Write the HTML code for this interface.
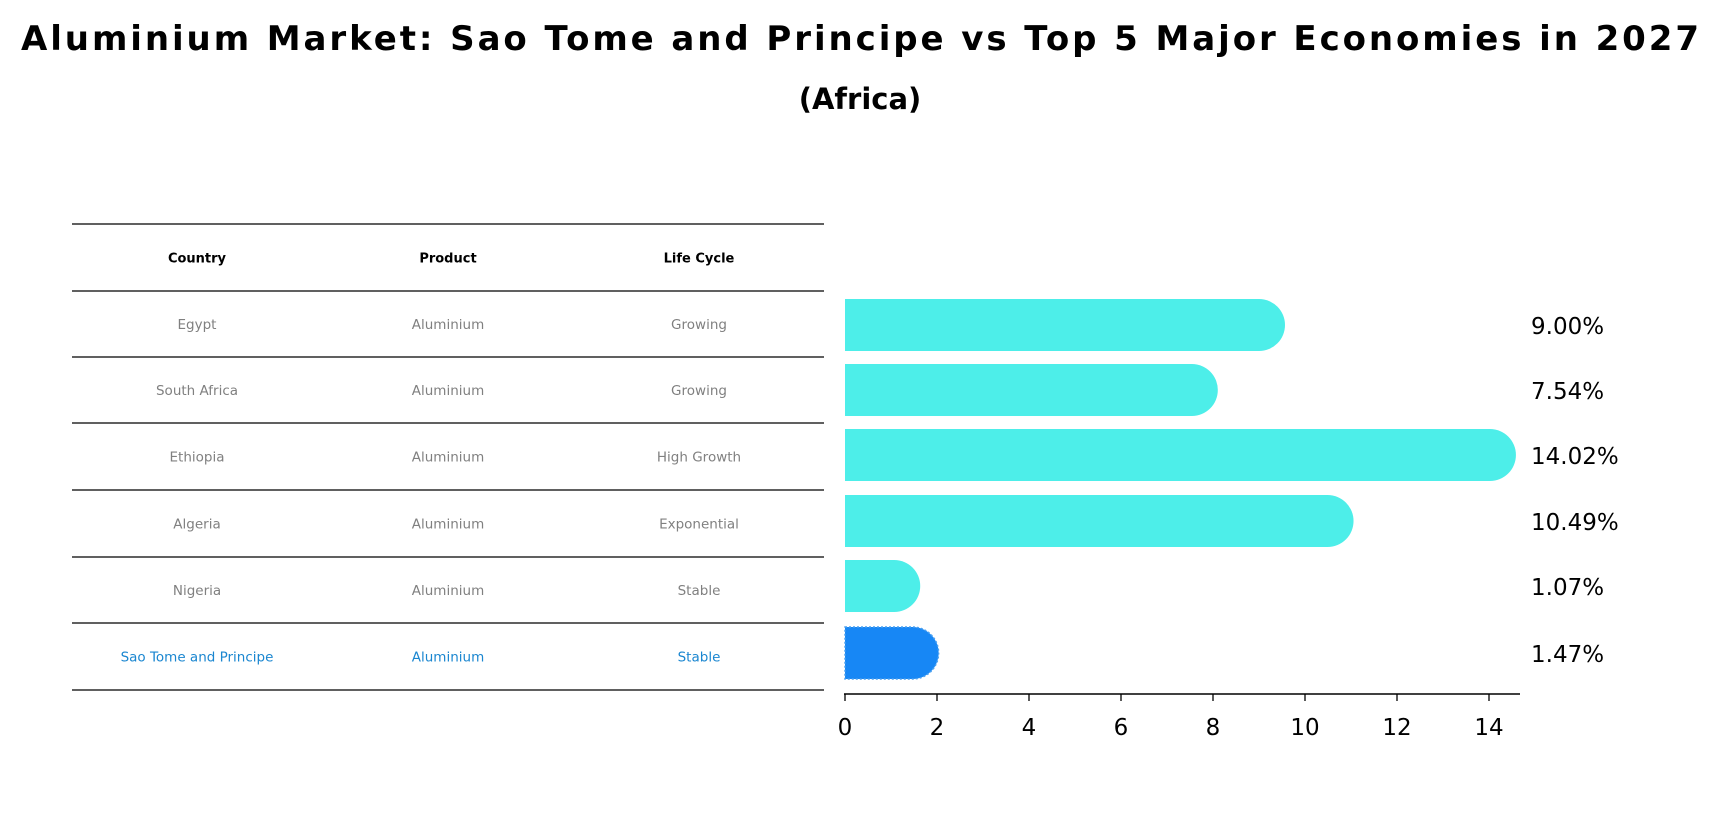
<!DOCTYPE html>
<html><head><meta charset="utf-8"><style>
body{margin:0;background:#fff;}
svg{display:block;font-family:"DejaVu Sans","Liberation Sans",sans-serif;}
</style></head><body>
<svg id="c" width="1720" height="823" viewBox="0 0 1720 823">
<text x="860" y="50" text-anchor="middle" font-size="34" font-weight="bold" textLength="1678">Aluminium Market: Sao Tome and Principe vs Top 5 Major Economies in 2027</text>
<text x="860" y="109" text-anchor="middle" font-size="29" font-weight="bold">(Africa)</text>
<g id="tbl"></g>
<g id="bars"></g>
</svg>
<script>
const countries=["Egypt","South Africa","Ethiopia","Algeria","Nigeria","Sao Tome and Principe"];
const products=["Aluminium","Aluminium","Aluminium","Aluminium","Aluminium","Aluminium"];
const cycles=["Growing","Growing","High Growth","Exponential","Stable","Stable"];
const values=[9.00,7.54,14.02,10.49,1.07,1.47];
const ticks=[0,2,4,6,8,10,12,14];
const NS="http://www.w3.org/2000/svg";
function mk(t,a,p,txt){const e=document.createElementNS(NS,t);for(const k in a)e.setAttribute(k,a[k]);if(txt!=null)e.textContent=txt;p.appendChild(e);return e;}
const tbl=document.getElementById('tbl');
const lineY=[224,291,357,423,490,557,623,690];
const colX=[197,448,699];
lineY.forEach((y,i)=>{const l=mk('line',{x1:72,x2:824,y1:y,y2:y,stroke:'#000','stroke-width':1.2},tbl);

});
["Country","Product","Life Cycle"].forEach((h,j)=>{const t=mk('text',{x:colX[j],y:(lineY[0]+lineY[1])/2+5,'text-anchor':'middle','font-size':13,'font-weight':'bold'},tbl,h);

});
countries.forEach((c,i)=>{const y=(lineY[i+1]+lineY[i+2])/2+5;const hl=i===countries.length-1;
[c,products[i],cycles[i]].forEach((v,j)=>{const t=mk('text',{x:colX[j],y:y,'text-anchor':'middle','font-size':13.5,fill:hl?'#1a86d0':'#808080'},tbl,v);

});});
const g=document.getElementById('bars');
const x0=845,unit=46,bh=52,yc=[325,390,455,521,586,653];
const X=v=>x0+v*unit;
values.forEach((v,i)=>{const hl=i===values.length-1;const r=bh/2;const xe=X(v);const y=yc[i];
const p=mk('path',{d:`M${x0},${y-r}H${xe}A${r},${r} 0 0 1 ${xe},${y+r}H${x0}Z`,fill:hl?'#1787f5':'#4deee9',stroke:hl?'#4aa0f0':'none','stroke-dasharray':hl?'2 2':'none','stroke-width':hl?1.5:0},g);


const t=mk('text',{x:1531,y:y+9,'font-size':23},g,v.toFixed(2)+'%');

});
const ax=mk('line',{x1:844,x2:1520,y1:694,y2:694,stroke:'#000','stroke-width':1.5},g);


ticks.forEach(tk=>{const l=mk('line',{x1:X(tk),x2:X(tk),y1:694,y2:701,stroke:'#000','stroke-width':1.3},g);


const t=mk('text',{x:X(tk),y:735,'text-anchor':'middle','font-size':23},g,String(tk));

});
</script>
</body></html>
